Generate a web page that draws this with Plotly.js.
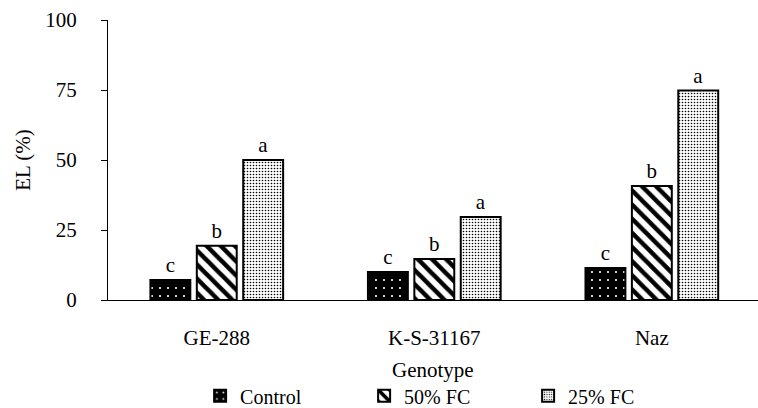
<!DOCTYPE html>
<html>
<head>
<meta charset="utf-8">
<script src="https://cdn.plot.ly/plotly-3.0.1.min.js"></script>
<style>html,body{margin:0;padding:0;background:#fff;overflow:hidden}</style>
</head>
<body>
<div id="chart" style="width:758px;height:408px"></div>
<script>
var genotypes = ["GE-288", "K-S-31167", "Naz"];
var seriesNames = ["Control", "50% FC", "25% FC"];
var controlVals = [7.1, 10.0, 11.4];
var fc50Vals = [19.4, 14.6, 40.7];
var fc25Vals = [50.0, 29.6, 74.8];
var controlLetters = ["c", "c", "c"];
var fc50Letters = ["b", "b", "b"];
var fc25Letters = ["a", "a", "a"];
var yTicks = [0, 25, 50, 75, 100];
var xTitle = "Genotype";
var yTitle = "EL (%)";

var FONT = "'Liberation Serif', 'Times New Roman', Times, serif";
function mk(name, vals, letters, pat) {
  return {
    type: "bar", name: name, x: genotypes, y: vals,
    text: letters, textposition: "outside", cliponaxis: false,
    textfont: {family: FONT, size: 21, color: "#000"},
    marker: {color: pat.bg, line: {color: "#000", width: 2}, pattern: pat.p}
  };
}
var traces = [
  mk(seriesNames[0], controlVals, controlLetters, {bg: "#000", p: {shape: ".", fgcolor: "#fff", bgcolor: "#000", size: 8, solidity: 0.06, fillmode: "replace"}}),
  mk(seriesNames[1], fc50Vals, fc50Letters, {bg: "#fff", p: {shape: "\\", fgcolor: "#000", bgcolor: "#fff", size: 10, solidity: 0.45, fillmode: "replace"}}),
  mk(seriesNames[2], fc25Vals, fc25Letters, {bg: "#fff", p: {shape: ".", fgcolor: "#000", bgcolor: "#fff", size: 3, solidity: 0.22, fillmode: "replace"}})
];
var layout = {
  width: 758, height: 408,
  margin: {l: 108, r: 0, t: 20, b: 108, autoexpand: false},
  paper_bgcolor: "#fff", plot_bgcolor: "#fff",
  font: {family: FONT, size: 21, color: "#000"},
  barmode: "group", bargap: 0.36, bargroupgap: 0.14,
  showlegend: true,
  legend: {orientation: "h", xref: "container", x: 0.264, xanchor: "left",
           yref: "container", y: 0.03, yanchor: "middle",
           entrywidth: 119, font: {family: FONT, size: 20, color: "#000"}, traceorder: "normal",
           bgcolor: "rgba(0,0,0,0)"},
  xaxis: {
    range: [-0.5, 2.488], showline: true, linecolor: "#000", linewidth: 1,
    ticks: "", showgrid: false, zeroline: false, ticklabelstandoff: 19,
    tickfont: {family: FONT, size: 21, color: "#000"}
  },
  yaxis: {
    range: [0, 100], tickvals: yTicks, showline: true, linecolor: "#000", linewidth: 1,
    ticks: "outside", ticklen: 6, tickcolor: "#000", showgrid: false, zeroline: false,
    ticklabelstandoff: 20,
    tickfont: {family: FONT, size: 21, color: "#000"},
    title: {text: yTitle, font: {family: FONT, size: 21, color: "#000"}, standoff: 8}
  },
  annotations: [{
    text: xTitle, xref: "paper", yref: "paper", x: 0.5, y: -0.25,
    xanchor: "center", yanchor: "middle", showarrow: false,
    font: {family: FONT, size: 21, color: "#000"}
  }]
};
Plotly.newPlot("chart", traces, layout, {displayModeBar: false, staticPlot: true});
</script>
</body>
</html>
